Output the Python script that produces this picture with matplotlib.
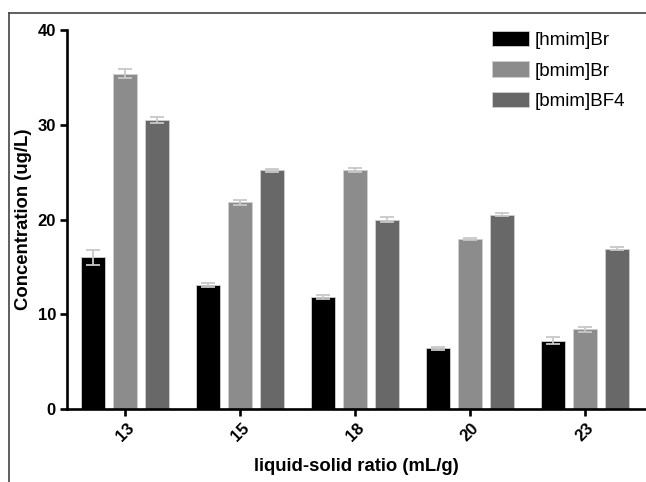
import matplotlib
matplotlib.use("Agg")
import matplotlib.pyplot as plt
from matplotlib.lines import Line2D
import numpy as np

categories = ["13", "15", "18", "20", "23"]
series_names = ["[hmim]Br", "[bmim]Br", "[bmim]BF4"]
hmim_br = [16.0, 13.1, 11.8, 6.4, 7.2]
hmim_br_err = [0.8, 0.2, 0.2, 0.15, 0.35]
bmim_br = [35.4, 21.8, 25.2, 17.9, 8.4]
bmim_br_err = [0.5, 0.3, 0.2, 0.1, 0.25]
bmim_bf4 = [30.5, 25.2, 20.0, 20.5, 16.9]
bmim_bf4_err = [0.3, 0.15, 0.3, 0.15, 0.15]
yticks = [0, 10, 20, 30, 40]

plt.rcParams['font.family'] = ['Liberation Sans', 'DejaVu Sans']

fig = plt.figure(figsize=(6.46, 4.82), dpi=100)
ax = fig.add_axes([67/646, 1-409/482, 1-67/646, (409-30)/482])

x = np.arange(len(categories))
colors = ["#000000", "#8c8c8c", "#686868"]
vals = [hmim_br, bmim_br, bmim_bf4]
errs = [hmim_br_err, bmim_br_err, bmim_bf4_err]
offsets = [-0.28, 0.0, 0.28]
w = 0.21
for v, e, c, o, n in zip(vals, errs, colors, offsets, series_names):
    ax.bar(x + o, v, w, color=c, edgecolor="#d0d0d0", linewidth=0.6, label=n, zorder=2)
    ax.errorbar(x + o, v, yerr=e, fmt='none', ecolor="#c8c8c8", elinewidth=1.3,
                capsize=5, capthick=1.3, zorder=3)

ax.set_xlim(-0.504, 4.53)
ax.set_ylim(0, 40)
ax.set_yticks(yticks)
ax.set_yticklabels([str(t) for t in yticks], fontweight='bold', fontsize=12)
ax.set_xticks(x)
ax.set_xticklabels(categories, rotation=45, fontweight='bold', fontsize=12,
                   ha='center', va='top')
for s in ['top', 'right']:
    ax.spines[s].set_visible(False)
for s in ['left', 'bottom']:
    ax.spines[s].set_linewidth(1.9)
ax.tick_params(axis='both', direction='out', length=5, width=1.9, pad=3)
ax.set_xlabel("liquid-solid ratio (mL/g)", fontweight='bold', fontsize=13.3, labelpad=10)
ax.set_ylabel("Concentration (ug/L)", fontweight='bold', fontsize=13.3, labelpad=4)

leg = ax.legend(loc='upper left', bbox_to_anchor=(475/646, 1-14/482),
                bbox_transform=fig.transFigure, frameon=False, fontsize=13.5,
                handlelength=2.0, handleheight=0.9, labelspacing=0.65, handletextpad=0.3)

fig.add_artist(Line2D([9/646, 1.0], [1-13/482, 1-13/482], transform=fig.transFigure,
                      color="#444444", linewidth=1.2))
fig.add_artist(Line2D([9/646, 9/646], [0, 1-13/482], transform=fig.transFigure,
                      color="#444444", linewidth=1.2))

fig.savefig("out.png", dpi=100)
